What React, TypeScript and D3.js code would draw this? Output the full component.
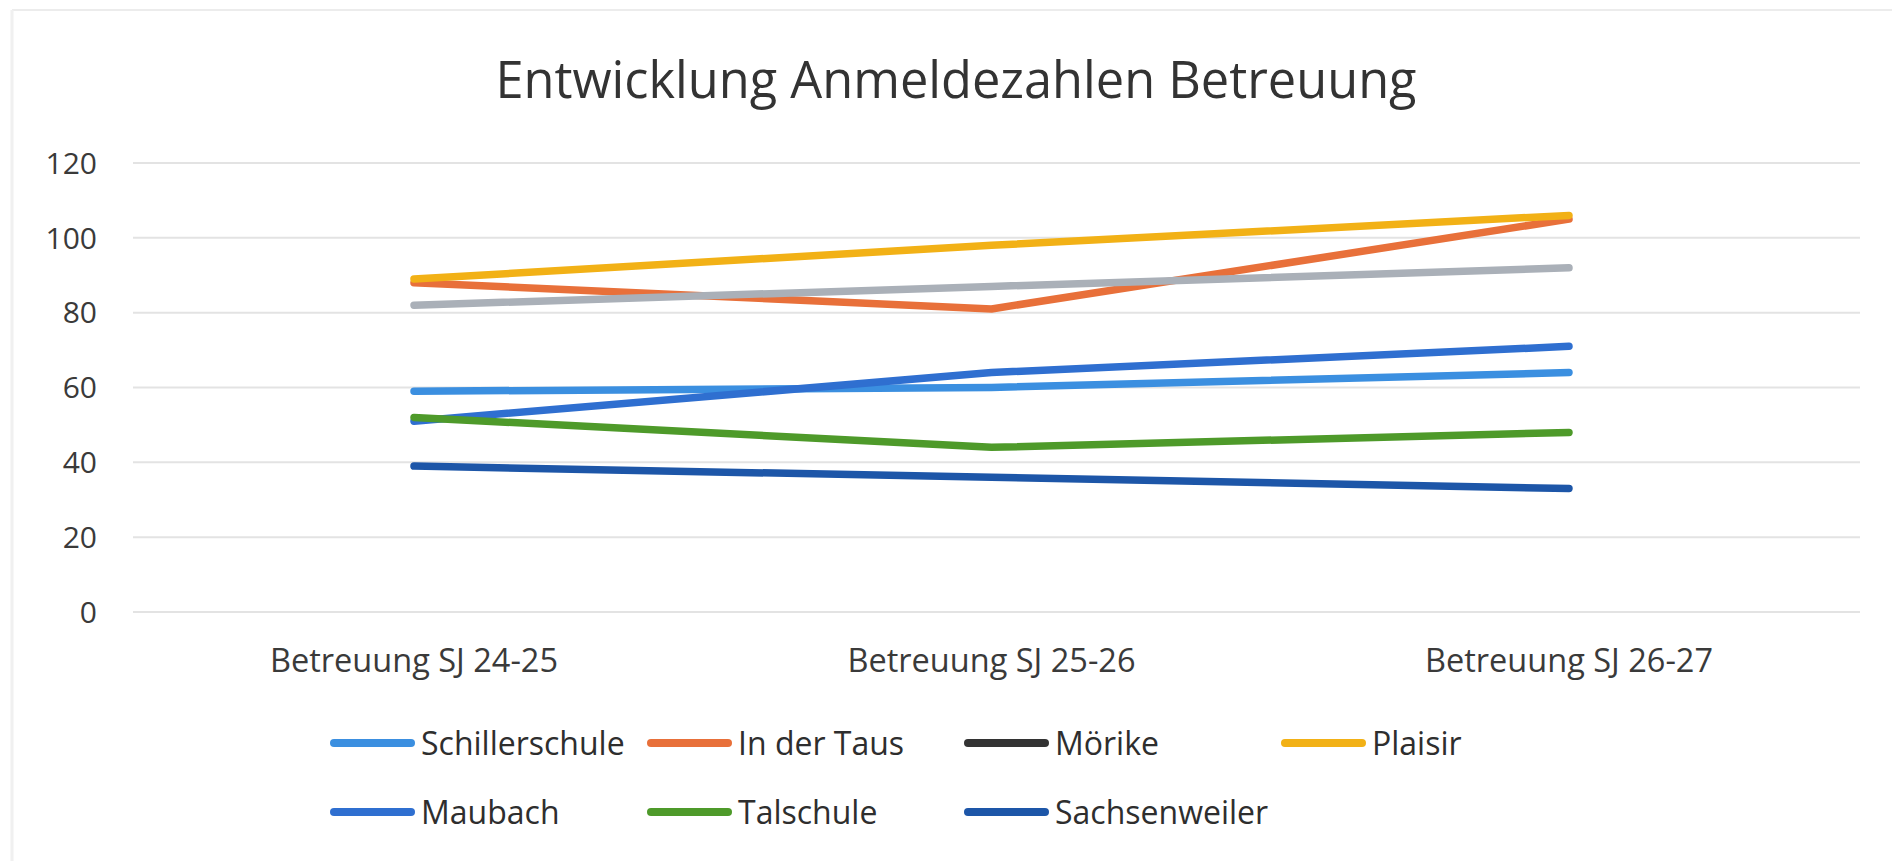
import React, { useEffect, useRef } from 'react';
import * as d3 from 'd3';

const title = 'Entwicklung Anmeldezahlen Betreuung';
const categories = ['Betreuung SJ 24-25', 'Betreuung SJ 25-26', 'Betreuung SJ 26-27'];
const yTicks = [0, 20, 40, 60, 80, 100, 120];

const seriesNames = ['Schillerschule', 'In der Taus', 'Mörike', 'Plaisir', 'Maubach', 'Talschule', 'Sachsenweiler'];
const schillerschule = [59, 60, 64];
const inDerTaus = [88, 81, 105];
const moerike = [82, 87, 92];
const plaisir = [89, 98, 106];
const maubach = [51, 64, 71];
const talschule = [52, 44, 48];
const sachsenweiler = [39, 36, 33];

const lineColors = ['#3b8fe0', '#e8703a', '#aab0b8', '#f2b116', '#2f6fd0', '#4e9a2a', '#1d56a8'];
// the scan shows the Mörike legend key much darker than its line
const legendColors = ['#3b8fe0', '#e8703a', '#333333', '#f2b116', '#2f6fd0', '#4e9a2a', '#1d56a8'];

const FONT = '"Open Sans", Lato, sans-serif';

const Chart = () => {
	const chartRef = useRef(null);

	useEffect(() => {
		const values = [schillerschule, inDerTaus, moerike, plaisir, maubach, talschule, sachsenweiler];
		const width = 1892;
		const height = 861;

		d3.select(chartRef.current).selectAll('*').remove();

		const svg = d3
			.select(chartRef.current)
			.append('svg')
			.attr('width', width)
			.attr('height', height)
			.style('position', 'absolute')
			.style('left', '0px')
			.style('top', '0px')
			.style('background', '#fff');

		// faint frame from the scan
		svg.append('line').attr('x1', 12).attr('x2', width).attr('y1', 10).attr('y2', 10)
			.attr('stroke', '#ececec').attr('stroke-width', 2);
		svg.append('line').attr('x1', 12).attr('x2', 12).attr('y1', 10).attr('y2', height)
			.attr('stroke', '#f0f0f0').attr('stroke-width', 3);

		svg.append('text')
			.attr('x', 956)
			.attr('y', 98)
			.attr('text-anchor', 'middle')
			.style('font-family', FONT)
			.style('font-size', '50.5px')
			.attr('fill', '#333')
			.text(title);

		const x = d3.scalePoint().domain(categories).range([414, 1569]);
		const y = d3.scaleLinear().domain([0, 120]).range([612, 163]);

		const grid = svg.append('g');
		grid.selectAll('line')
			.data(yTicks)
			.join('line')
			.attr('x1', 133)
			.attr('x2', 1860)
			.attr('y1', d => y(d))
			.attr('y2', d => y(d))
			.attr('stroke', '#e3e3e3')
			.attr('stroke-width', 2);

		svg.append('g')
			.selectAll('text')
			.data(yTicks)
			.join('text')
			.attr('x', 97)
			.attr('y', d => y(d))
			.attr('dy', '0.36em')
			.attr('text-anchor', 'end')
			.style('font-family', FONT)
			.style('font-size', '30px')
			.attr('fill', '#3a3a3a')
			.text(d => d);

		svg.append('g')
			.selectAll('text')
			.data(categories)
			.join('text')
			.attr('x', d => x(d))
			.attr('y', 672)
			.attr('text-anchor', 'middle')
			.style('font-family', FONT)
			.style('font-size', '32.5px')
			.attr('fill', '#3a3a3a')
			.text(d => d);

		const line = d3
			.line()
			.x((d, i) => x(categories[i]))
			.y(d => y(d));

		values.forEach((vals, i) => {
			svg.append('path')
				.datum(vals)
				.attr('fill', 'none')
				.attr('stroke', lineColors[i])
				.attr('stroke-width', 7.5)
				.attr('stroke-linecap', 'round')
				.attr('stroke-linejoin', 'round')
				.attr('d', line);
		});

		const legend = svg.append('g');
		seriesNames.forEach((name, i) => {
			const col = i < 4 ? i : i - 4;
			const row = i < 4 ? 0 : 1;
			const item = legend.append('g')
				.attr('transform', `translate(${330 + col * 317},${743 + row * 69})`);
			item.append('line')
				.attr('x1', 4).attr('x2', 81)
				.attr('y1', 0).attr('y2', 0)
				.attr('stroke', legendColors[i])
				.attr('stroke-width', 8)
				.attr('stroke-linecap', 'round');
			item.append('text')
				.attr('x', 91)
				.attr('y', 0)
				.attr('dy', '0.36em')
				.style('font-family', FONT)
				.style('font-size', '32px')
				.attr('fill', '#2e2e2e')
				.text(name);
		});
	}, []);

	return <div ref={chartRef}></div>;
};

export default function App() {
	return <Chart />;
}
